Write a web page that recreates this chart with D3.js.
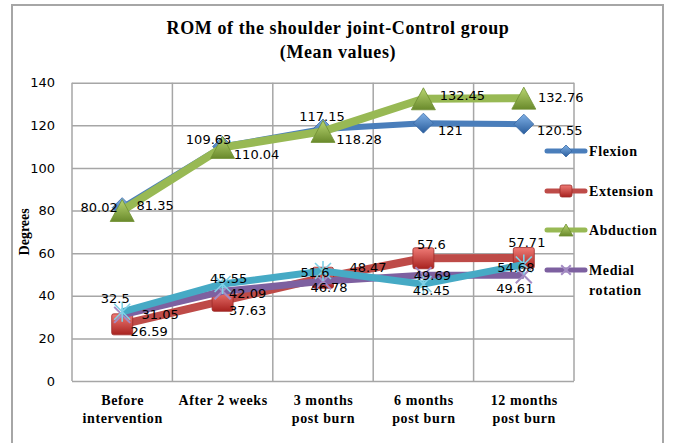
<!DOCTYPE html>
<html>
<head>
<meta charset="utf-8">
<script src="https://cdn.jsdelivr.net/npm/d3@7"></script>
<style>
  body { margin: 0; background: #fff; }
  svg { display: block; }
</style>
</head>
<body>
<svg id="chart" width="673" height="443"></svg>
<script>
// ROM of the shoulder joint - control group, mean values per visit

const categories = [["Before", "intervention"], ["After 2 weeks"], ["3 months", "post burn"], ["6 months", "post burn"], ["12 months", "post burn"]]
const flexion = [81.35, 110.04, 118.28, 121, 120.55]
const extension = [26.59, 37.63, 48.47, 57.6, 57.71]
const abduction = [80.02, 109.63, 117.15, 132.45, 132.76]
const medialRotation = [31.05, 42.09, 46.78, 49.69, 49.61]
const lateralRotation = [32.5, 45.55, 51.6, 45.45, 54.68]
const yTicks = [0, 20, 40, 60, 80, 100, 120, 140]

// label nudges (px) so the numbers sit where the original put them
const flexionLabelPos = [[33, -2], [34, 8], [36, 11], [27, 7], [36, 6]]
const extensionLabelPos = [[27, 7], [25, 10], [45, -10], [8, -14], [3, -16]]
const abductionLabelPos = [[-23, -3], [-14, -8], [-1, -15], [39, -3], [37, -1]]
const medialLabelPos = [[38, 0], [25, 2], [6, 6], [9, 0], [-9, 13]]
const lateralLabelPos = [[-7, -13], [6, -5], [-8, 1], [8, 6], [-8, 3]]

const series = [
  { name: "Flexion", values: flexion, color: "#4a7ebb", width: 6, marker: "diamond", labels: flexionLabelPos, legend: true },
  { name: "Extension", values: extension, color: "#be4b48", width: 8, marker: "square", labels: extensionLabelPos, legend: true },
  { name: "Abduction", values: abduction, color: "#98b954", width: 8, marker: "triangle", labels: abductionLabelPos, legend: true },
  { name: "Medial rotation", values: medialRotation, color: "#7d60a0", width: 7, marker: "cross", labels: medialLabelPos, legend: true },
  { name: "Lateral rotation", values: lateralRotation, color: "#46aac5", width: 7, marker: "star", labels: lateralLabelPos, legend: false }
]

const svg = d3.select("#chart")
const plotLeft = 72, plotRight = 574, plotTop = 82.7, plotBottom = 381

const x = d3.scalePoint()
  .domain(d3.range(categories.length))
  .range([plotLeft, plotRight])
  .padding(0.5)

const y = d3.scaleLinear()
  .domain([0, 140])
  .range([plotBottom, plotTop])

// gradients for the shaded markers
const defs = svg.append("defs")
function grad(id, c1, c2) {
  const g = defs.append("linearGradient").attr("id", id)
    .attr("x1", 0).attr("y1", 0).attr("x2", 0).attr("y2", 1)
  g.append("stop").attr("offset", "0%").attr("stop-color", c1)
  g.append("stop").attr("offset", "100%").attr("stop-color", c2)
}
grad("g-diamond", "#7fb0e6", "#2a5d9c")
grad("g-square", "#ef7b76", "#a8221f")
grad("g-triangle", "#b9d672", "#6a8a2c")

// outer chart border
svg.append("rect")
  .attr("x", 12).attr("y", 5)
  .attr("width", 651).attr("height", 460)
  .attr("fill", "none")
  .attr("stroke", "#a6a6a6")
  .attr("stroke-width", 2)

// title
const title = svg.append("text")
  .attr("x", 338)
  .attr("text-anchor", "middle")
  .style("font-family", "'Liberation Serif', 'Times New Roman', serif")
  .style("font-weight", "bold")
  .style("font-size", "18px")
  .style("letter-spacing", "0.6px")
  .attr("fill", "#000")
title.append("tspan").attr("x", 338).attr("y", 34).text("ROM of the shoulder joint-Control  group")
title.append("tspan").attr("x", 338).attr("y", 58).text("(Mean values)")

// horizontal grid
svg.append("g")
  .attr("transform", `translate(${plotLeft},0)`)
  .call(d3.axisLeft(y).tickValues(yTicks).tickSize(-(plotRight - plotLeft)).tickFormat(""))
  .call(g => g.select(".domain").remove())
  .call(g => g.selectAll("line").attr("stroke", "#a6a6a6").attr("stroke-width", 1.5))

// vertical grid between categories
const step = x.step()
svg.append("g")
  .selectAll("line")
  .data(d3.range(categories.length + 1))
  .join("line")
  .attr("x1", i => plotLeft + i * step)
  .attr("x2", i => plotLeft + i * step)
  .attr("y1", plotTop)
  .attr("y2", plotBottom)
  .attr("stroke", "#a6a6a6")
  .attr("stroke-width", 1.5)

// y axis labels
svg.append("g")
  .attr("transform", `translate(${plotLeft},0)`)
  .call(d3.axisLeft(y).tickValues(yTicks).tickSize(0).tickPadding(17))
  .call(g => g.select(".domain").remove())
  .call(g => g.selectAll("text")
    .style("font-family", "'DejaVu Sans', Verdana, sans-serif")
    .style("font-size", "13px")
    .attr("fill", "#000"))

svg.append("text")
  .attr("transform", `translate(29,${(plotTop + plotBottom) / 2}) rotate(-90)`)
  .attr("text-anchor", "middle")
  .style("font-family", "'Liberation Serif', 'Times New Roman', serif")
  .style("font-weight", "bold")
  .style("font-size", "14px")
  .text("Degrees")

// x axis labels (two lines)
const xAxis = svg.append("g")
  .attr("transform", `translate(0,${plotBottom})`)
  .call(d3.axisBottom(x).tickSize(0).tickFormat(""))
xAxis.select(".domain").remove()
xAxis.selectAll(".tick").each(function (i) {
  const t = d3.select(this).append("text")
    .attr("fill", "#000")
    .attr("text-anchor", "middle")
    .style("font-family", "'Liberation Serif', 'Times New Roman', serif")
    .style("font-weight", "bold")
    .style("font-size", "14px")
    .style("letter-spacing", "0.6px")
  categories[i].forEach((line, k) => {
    t.append("tspan").attr("x", 0).attr("y", 24 + k * 18).text(line)
  })
})

// marker shapes
function drawMarker(g, type, size) {
  const h = size / 2
  if (type === "diamond") {
    g.append("path").attr("d", `M0,${-h}L${h},0L0,${h}L${-h},0Z`)
      .attr("fill", "url(#g-diamond)").attr("stroke", "#3a6aa5").attr("stroke-width", 0.8)
  } else if (type === "square") {
    g.append("rect").attr("x", -h).attr("y", -h).attr("width", size).attr("height", size).attr("rx", 2)
      .attr("fill", "url(#g-square)").attr("stroke", "#9c2b28").attr("stroke-width", 0.8)
  } else if (type === "triangle") {
    g.append("path").attr("d", `M0,${-h}L${h + 1},${h}L${-h - 1},${h}Z`)
      .attr("fill", "url(#g-triangle)").attr("stroke", "#6f8f31").attr("stroke-width", 0.8)
  } else if (type === "cross") {
    const r = h * 0.8
    g.append("path").attr("d", `M${-r},${-r}L${r},${r}M${-r},${r}L${r},${-r}`)
      .attr("stroke", "#a48cc4").attr("stroke-width", 2).attr("fill", "none")
  } else if (type === "star") {
    const r = h * 0.8
    g.append("path").attr("d", `M${-r},${-r}L${r},${r}M${-r},${r}L${r},${-r}M0,${-h}L0,${h}`)
      .attr("stroke", "#7fd0e6").attr("stroke-width", 1.6).attr("fill", "none")
  }
}

const line = d3.line()
  .x((d, i) => x(i))
  .y(d => y(d))

series.forEach(s => {
  const g = svg.append("g")
  g.append("path")
    .datum(s.values)
    .attr("d", line)
    .attr("fill", "none")
    .attr("stroke", s.color)
    .attr("stroke-width", s.width)
    .attr("stroke-linejoin", "round")
  const size = s.marker === "triangle" ? 22 : s.marker === "square" ? 21 : 20
  s.values.forEach((v, i) => {
    const m = g.append("g").attr("transform", `translate(${x(i)},${y(v)})`)
    drawMarker(m, s.marker, size)
  })
})

// data labels on top of everything
series.forEach(s => {
  svg.append("g")
    .selectAll("text")
    .data(s.values)
    .join("text")
    .attr("x", (d, i) => x(i) + s.labels[i][0])
    .attr("y", (d, i) => y(d) + s.labels[i][1])
    .attr("text-anchor", "middle")
    .attr("dominant-baseline", "central")
    .style("font-family", "'DejaVu Sans', Verdana, sans-serif")
    .style("font-size", "13px")
    .attr("fill", "#000")
    .text(d => d)
})

// legend
const legendY = [151, 191, 230, 270]
const legend = svg.append("g")
series.filter(s => s.legend).forEach((s, k) => {
  const g = legend.append("g").attr("transform", `translate(547,${legendY[k]})`)
  g.append("line").attr("x1", 0).attr("x2", 38).attr("y1", 0).attr("y2", 0)
    .attr("stroke", s.color).attr("stroke-width", 5).attr("stroke-linecap", "round")
  const m = g.append("g").attr("transform", "translate(19,0)")
  drawMarker(m, s.marker, 12)
  const t = g.append("text")
    .attr("x", 42)
    .attr("dominant-baseline", "central")
    .style("font-family", "'Liberation Serif', 'Times New Roman', serif")
    .style("font-weight", "bold")
    .style("font-size", "14px")
    .style("letter-spacing", "0.6px")
  s.name.split(" ").forEach((w, j) => {
    t.append("tspan").attr("x", 42).attr("y", j * 20).text(w)
  })
})
</script>
</body>
</html>
